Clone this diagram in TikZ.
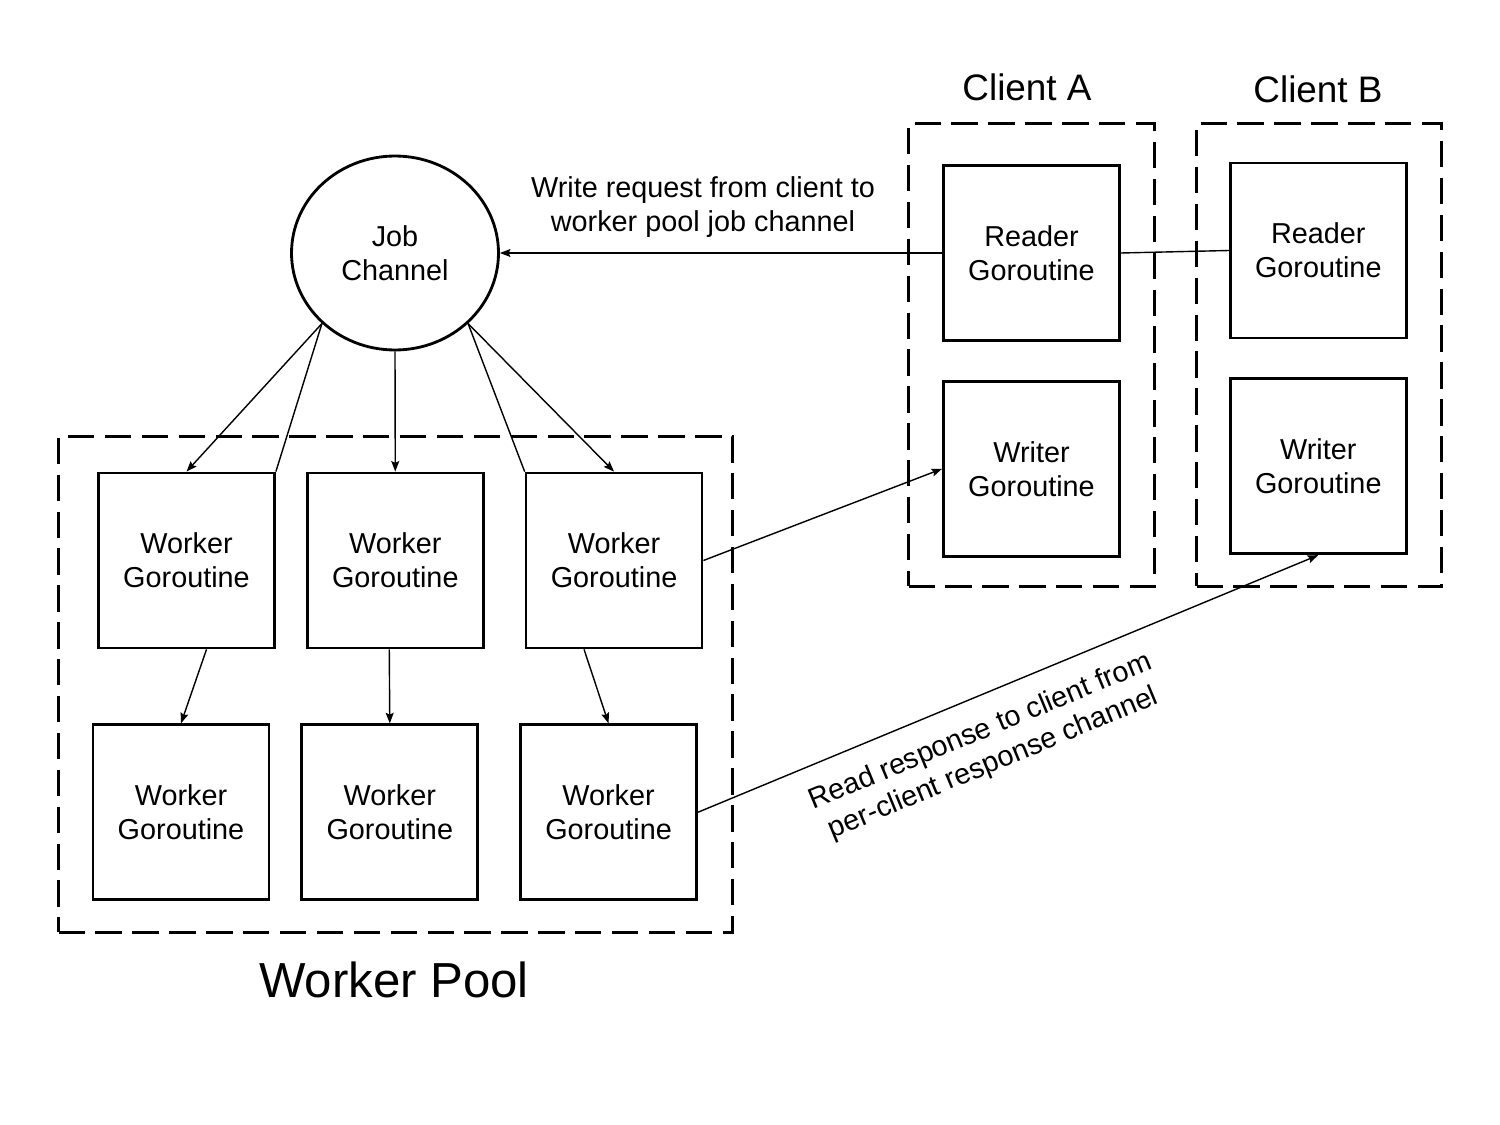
\documentclass[tikz,border=0pt]{standalone}
\usepackage{fontspec}
\setmainfont{Liberation Sans}
\usetikzlibrary{shapes.geometric,arrows.meta,positioning,calc}

\begin{document}
\begin{tikzpicture}[
    x=0.02cm, y=-0.02cm,
    font=\fontsize{16.4}{19.3}\selectfont,
    gor/.style={rectangle, draw, line width=1.6pt, minimum width=3.52cm, minimum height=3.5cm, align=center, inner sep=0pt},
    chan/.style={ellipse, draw, line width=1.6pt, minimum width=4.14cm, minimum height=3.88cm, align=center, inner sep=0pt},
    group/.style={rectangle, draw, line width=1.6pt, dash pattern=on 15pt off 6pt},
    title/.style={font=\fontsize{21}{25}\selectfont},
    arrow/.style={line width=0.8pt, -{Stealth[length=6pt,width=4.5pt,inset=1pt]}},
    link/.style={line width=0.8pt}
]
    \useasboundingbox (0,0) rectangle (1500,1125);

    % groups
    \node[group, minimum width=13.48cm, minimum height=9.92cm] (pool) at (395.5,684.5) {};
    \node[group, minimum width=4.92cm, minimum height=9.26cm] (clientA) at (1031.5,355) {};
    \node[group, minimum width=4.9cm, minimum height=9.26cm] (clientB) at (1319,355) {};
    \node[title] (titleA) at (1027,87) {Client A};
    \node[title] (titleB) at (1318,89) {Client B};
    \node[font=\fontsize{28}{33}\selectfont] (titlePool) at (394,980) {Worker Pool};

    \node[chan] (job) at (395,253) {Job\\Channel};

    % worker pool
    \node[gor] (w1) at (186.5,560.5) {Worker\\Goroutine};
    \node[gor, right=0.6cm of w1] (w2) {Worker\\Goroutine};
    \node[gor, right=0.8cm of w2] (w3) {Worker\\Goroutine};
    \node[gor, below=1.48cm of w1, xshift=-0.11cm] (b1) {Worker\\Goroutine};
    \node[gor, below=1.48cm of w2, xshift=-0.11cm] (b2) {Worker\\Goroutine};
    \node[gor, below=1.48cm of w3, xshift=-0.11cm] (b3) {Worker\\Goroutine};

    % clients
    \node[gor] (readerA) at (1031.5,253) {Reader\\Goroutine};
    \node[gor, below=0.76cm of readerA] (writerA) {Writer\\Goroutine};
    \node[gor, right=2.16cm of readerA, yshift=0.05cm] (readerB) {Reader\\Goroutine};
    \node[gor, below=0.76cm of readerB] (writerB) {Writer\\Goroutine};

    \node[align=center] (reqlabel) at (703,207) {Write request from client to\\worker pool job channel};
    \node[align=center, rotate=22.5] (resplabel) at (987,748) {Read response to client from\\per-client response channel};

    \draw[link] (readerB.west) -- (readerA.east);
    \draw[arrow] (readerA.west) -- (job.east);
    \draw[arrow] (job.224) -- (w1.north);
    \draw[link] (job.224) -- (w1.north east);
    \draw[arrow] (job.south) -- (w2.north);
    \draw[link] (job.316) -- (w3.north west);
    \draw[arrow] (job.316) -- (w3.north);
    \draw[arrow] ($(w1.south)+(20,0)$) -- (b1.north);
    \draw[arrow] ($(w2.south)+(-6,0)$) -- (b2.north);
    \draw[arrow] ($(w3.south)+(-30,0)$) -- (b3.north);
    \draw[arrow] (w3.east) -- (writerA.west);
    \draw[arrow] (b3.east) -- (writerB.south);
\end{tikzpicture}
\end{document}
